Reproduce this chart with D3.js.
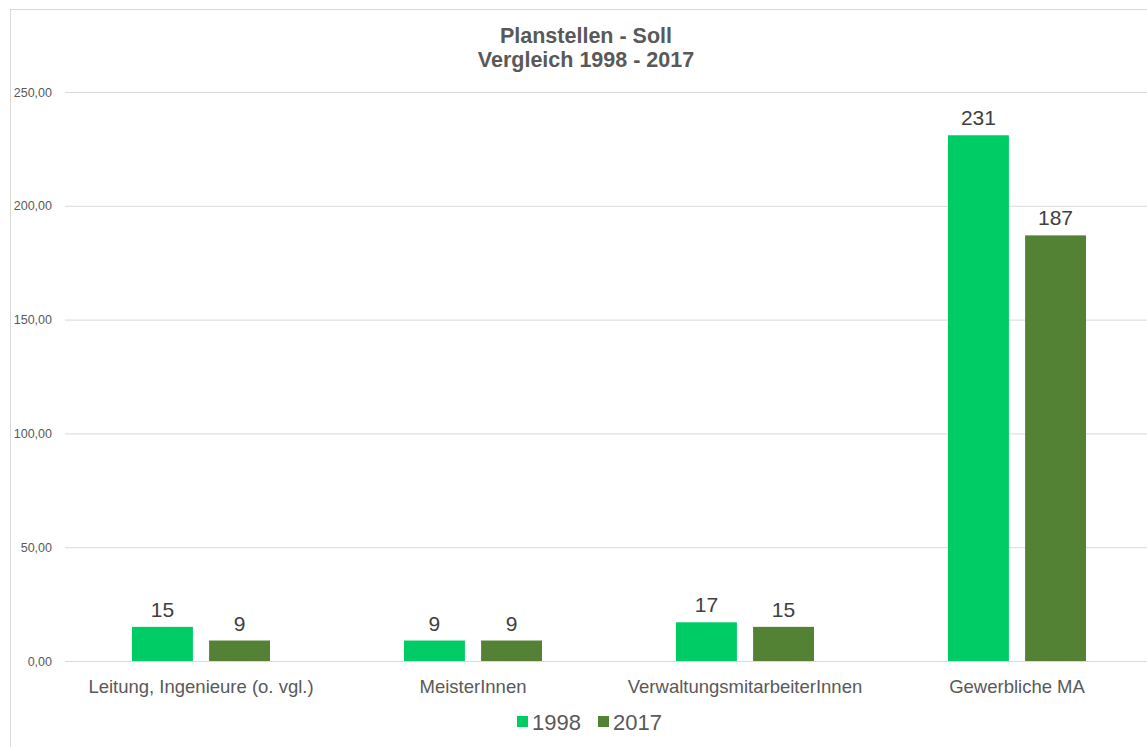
<!DOCTYPE html>
<html>
<head>
<meta charset="utf-8">
<script src="https://cdn.jsdelivr.net/npm/d3@7"></script>
<style>
  body { margin: 0; background: #fff; }
  svg { font-family: Arial, "Liberation Sans", sans-serif; display: block; }
</style>
</head>
<body>
<svg width="1147" height="747"></svg>
<script>
const categories = ['Leitung, Ingenieure (o. vgl.)', 'MeisterInnen', 'VerwaltungsmitarbeiterInnen', 'Gewerbliche MA'];
const seriesNames = ['1998', '2017'];
const values1998 = [15, 9, 17, 231];
const values2017 = [9, 9, 15, 187];
const yTicks = [0, 50, 100, 150, 200, 250];
const colors = ['#00cc66', '#548235'];

const svg = d3.select('svg');
const width = +svg.attr('width');
const height = +svg.attr('height');

// chart frame
svg.append('rect')
  .attr('x', 10.5).attr('y', 9.5)
  .attr('width', width + 10).attr('height', height + 10)
  .attr('fill', '#fff').attr('stroke', '#d9d9d9');

const plot = {left: 65, right: 1153, top: 92, bottom: 661};

const xScale = d3.scaleBand()
  .domain(categories)
  .range([plot.left, plot.right]);

// bars inside each category band
const xInner = d3.scaleBand()
  .domain(seriesNames)
  .range([67, 205])
  .paddingInner(0.21);

const yScale = d3.scaleLinear()
  .domain([0, 250])
  .range([plot.bottom, plot.top]);

// gridlines + y labels
const yAxis = d3.axisLeft(yScale)
  .tickValues(yTicks)
  .tickSize(-(plot.right - plot.left))
  .tickPadding(13)
  .tickFormat(d => d3.format('.2f')(d).replace('.', ','));

const yAxisGroup = svg.append('g')
  .attr('transform', `translate(${plot.left}, 0)`)
  .call(yAxis);
yAxisGroup.select('.domain').remove();
yAxisGroup.selectAll('.tick line').attr('stroke', '#d9d9d9');
yAxisGroup.selectAll('.tick text')
  .attr('fill', '#595959')
  .style('font-size', '12.5px');

// x axis line
svg.append('line')
  .attr('x1', plot.left).attr('x2', plot.right)
  .attr('y1', plot.bottom + 0.5).attr('y2', plot.bottom + 0.5)
  .attr('stroke', '#d9d9d9');

const rows = categories.map((c, i) => ({
  category: c,
  values: [values1998[i], values2017[i]]
}));

const groups = svg.selectAll('.group').data(rows)
  .enter().append('g')
    .attr('transform', d => `translate(${xScale(d.category)}, 0)`);

groups.selectAll('rect').data(d => d.values.map((v, j) => ({ v, s: seriesNames[j], j })))
  .enter().append('rect')
    .attr('x', d => xInner(d.s))
    .attr('y', d => yScale(d.v))
    .attr('width', xInner.bandwidth())
    .attr('height', d => plot.bottom - yScale(d.v))
    .attr('fill', d => colors[d.j]);

groups.selectAll('.val').data(d => d.values.map((v, j) => ({ v, s: seriesNames[j] })))
  .enter().append('text')
    .attr('x', d => xInner(d.s) + xInner.bandwidth() / 2)
    .attr('y', d => yScale(d.v) - 10)
    .attr('text-anchor', 'middle')
    .attr('fill', '#404040')
    .style('font-size', '21px')
    .text(d => d.v);

// category labels
svg.selectAll('.cat').data(categories)
  .enter().append('text')
    .attr('x', d => xScale(d) + xScale.bandwidth() / 2)
    .attr('y', 693)
    .attr('text-anchor', 'middle')
    .attr('fill', '#595959')
    .style('font-size', '18.5px')
    .text(d => d);

// title
const title = svg.append('text')
  .attr('text-anchor', 'middle')
  .attr('fill', '#595959')
  .style('font-size', '21.5px')
  .style('font-weight', 'bold');
title.append('tspan').attr('x', 586).attr('y', 43).text('Planstellen - Soll');
title.append('tspan').attr('x', 586).attr('y', 67).text('Vergleich 1998 - 2017');

// legend
const legendX = [517, 598];
const legend = svg.selectAll('.legend').data(seriesNames)
  .enter().append('g')
    .attr('transform', (d, i) => `translate(${legendX[i]}, 722)`);
legend.append('rect')
  .attr('x', 0).attr('y', -6)
  .attr('width', 11).attr('height', 11)
  .attr('fill', (d, i) => colors[i]);
legend.append('text')
  .attr('x', 15).attr('y', 8)
  .attr('fill', '#595959')
  .style('font-size', '22px')
  .text(d => d);
</script>
</body>
</html>
